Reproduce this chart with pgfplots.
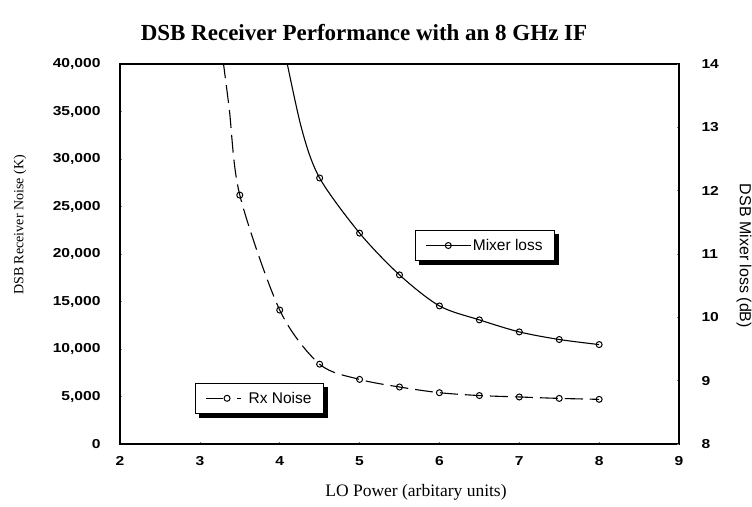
\documentclass[border=0pt]{standalone}
\usepackage{fontspec}
\setmainfont{Liberation Serif}
\setsansfont{Liberation Sans}
\newfontfamily\tickfont[FakeStretch=1.2]{Liberation Sans Bold}
\usepackage{pgfplots}
\pgfplotsset{compat=1.18}

\pgfplotstableread{
x y
3.25 43000
3.365 35500
3.5 26200
4.0 14100
4.5 8400
5.0 6800
5.5 6000
6.0 5400
6.5 5100
7.0 4950
7.5 4800
8.0 4700
}\rxnoise

\pgfplotstableread{
x y
4.03 14.4
4.27 13.0
4.5 12.2
5.0 11.33
5.5 10.67
6.0 10.18
6.5 9.96
7.0 9.77
7.5 9.65
8.0 9.57
}\mixerloss

\begin{document}
\begin{tikzpicture}
\pgfplotsset{
  common/.style={
    at={(0pt,0pt)}, anchor=south west,
    scale only axis, width=559pt, height=380pt,
    xmin=2, xmax=9,
    axis line style={line width=1.2pt},
    tick align=inside, major tick length=2pt,
    tick style={line width=0.6pt},
    /pgf/number format/assume math mode=true,
    ticklabel style={font=\tickfont\fontsize{13}{13}\selectfont},
    legend cell align=left,
  },
  legbox/.style={draw=black, line width=1.2pt, fill=white,
    font=\sffamily\fontsize{15.5}{15.5}\selectfont, inner xsep=10pt, inner ysep=6.5pt,
    row sep=0pt, /tikz/every even column/.append style={column sep=10pt}},
}
\begin{axis}[common,
  ymin=0, ymax=40000,
  xtick={2,...,9},
  ytick={0,5000,...,40000},
  scaled y ticks=false,
  yticklabel style={/pgf/number format/fixed, /pgf/number format/1000 sep={,}, xshift=-16pt},
  xticklabel style={yshift=-9pt},
  ytick pos=left, xtick pos=bottom,
  legend style={legbox, at={(0.134,0.161)}, anchor=north west, name=legrx},
  legend image code/.code={\draw[#1, dash pattern=on 17pt off 14pt on 4pt off 10pt, mark indices={2}] plot coordinates {(0pt,0pt) (21pt,0pt) (40pt,0pt)};},
]
\addplot[black, line width=1.1pt, dash pattern=on 18pt off 7pt, smooth,
  mark=o, mark size=3pt, mark indices={2,...,11},
  mark options={solid, fill=white, line width=1pt}] table {\rxnoise};
\addlegendentry{Rx Noise}
\end{axis}
\begin{axis}[common,
  ymin=8, ymax=14,
  ytick={8,...,14},
  axis y line*=right, axis x line=none,
  yticklabel style={xshift=19pt},
  legend style={legbox, at={(0.528,0.563)}, anchor=north west, name=legmx},
  legend image code/.code={\draw[#1, mark indices={2}] plot coordinates {(0pt,0pt) (22pt,0pt) (44pt,0pt)};},
]
\addplot[black, line width=1.1pt, smooth,
  mark=o, mark size=3pt, mark indices={2,...,9},
  mark options={solid, fill=white, line width=1pt}] table {\mixerloss};
\addlegendentry{Mixer loss}
\end{axis}
\foreach \l in {legrx,legmx}{
  \fill[black] ([xshift=4pt,yshift=-4pt]\l.south west) rectangle ([xshift=4pt]\l.south east);
  \fill[black] ([yshift=-4pt]\l.south east) rectangle ([xshift=4pt,yshift=-4pt]\l.north east);
}
\node[font=\bfseries\fontsize{23}{23}\selectfont] at (244pt,411pt) {DSB Receiver Performance with an 8 GHz IF};
\node[rotate=90, font=\fontsize{14}{14}\selectfont] at (-100pt,219pt) {DSB Receiver Noise (K)};
\node[rotate=-90, font=\sffamily\fontsize{16}{16}\selectfont] at (624pt,188pt) {DSB Mixer loss (dB)};
\node[font=\fontsize{17.5}{17.5}\selectfont] at (296pt,-48pt) {LO Power (arbitary units)};
\pgfresetboundingbox
\path[use as bounding box] (-120pt,-62pt) rectangle (632pt,444pt);
\end{tikzpicture}
\end{document}
